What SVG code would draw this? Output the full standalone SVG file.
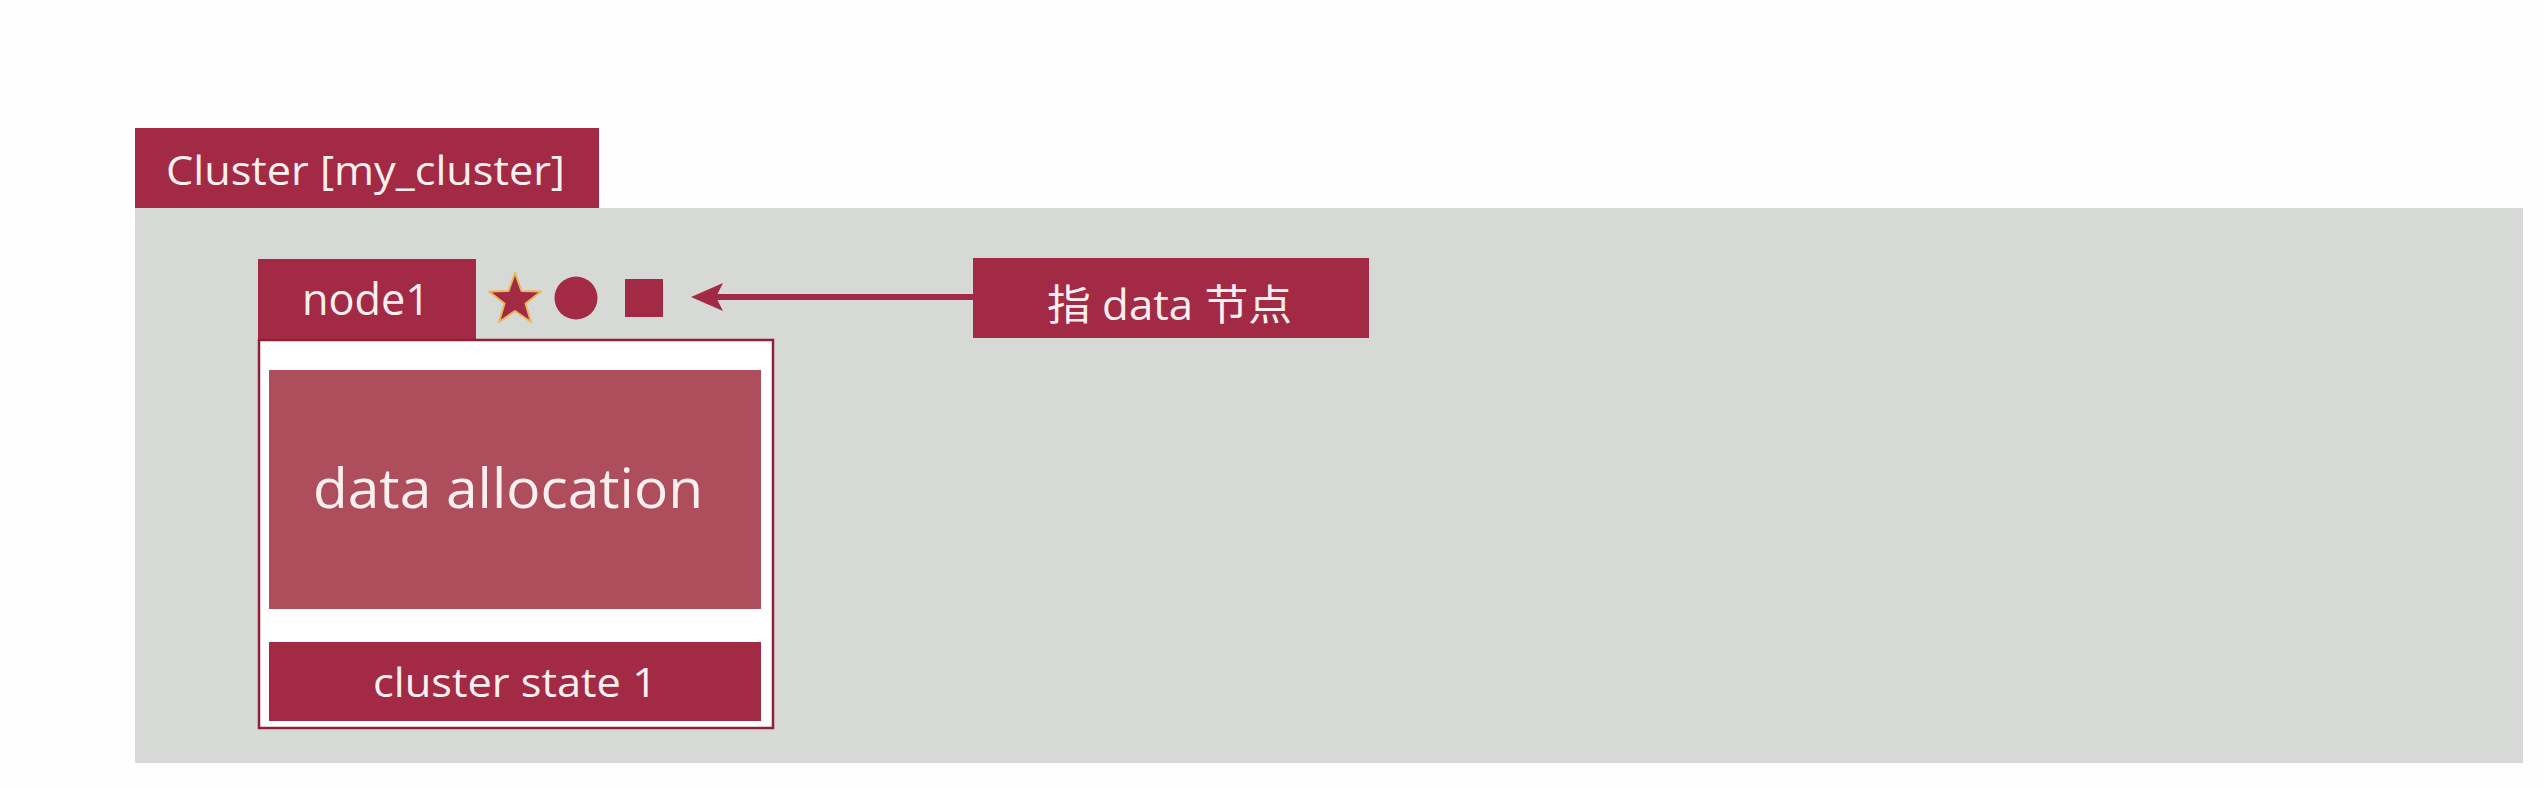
<svg xmlns="http://www.w3.org/2000/svg" width="2544" height="788" viewBox="0 0 2544 788">
<style>
.lbl{fill:#A32A45}
.t{font-family:"Open Sans","Noto Sans","Noto Sans CJK SC",sans-serif;fill:#FBEFF0}
</style>
<rect x="0" y="0" width="2544" height="788" fill="#FDFEFD"/>
<g id="cluster">
<rect x="135" y="208" width="2388" height="555" fill="#D7D9D6"/>
<rect class="lbl" x="135" y="128" width="464" height="80"/>
<text class="t" x="166" y="185" font-size="40" textLength="399" lengthAdjust="spacingAndGlyphs">Cluster [my_cluster]</text>
</g>
<g id="node1">
<rect class="lbl" x="258" y="259" width="218" height="81"/>
<text class="t" x="302" y="315" font-size="43" textLength="128" lengthAdjust="spacingAndGlyphs">node1</text>
<rect x="259" y="340" width="514" height="388" fill="#FFFFFF" stroke="#8E2039" stroke-width="2.5"/>
<rect x="269" y="370" width="492" height="239" fill="#AE4D5B"/>
<text class="t" x="313" y="508" font-size="54" textLength="390" lengthAdjust="spacingAndGlyphs">data allocation</text>
<rect class="lbl" x="269" y="642" width="492" height="79"/>
<text class="t" x="373" y="697" font-size="40" textLength="284" lengthAdjust="spacingAndGlyphs">cluster state 1</text>
</g>
<g id="markers">
<polygon points="515,273 521.5,291 541,291.5 525.5,303.5 531,322 515,311 499,322 504.5,303.5 489,291.5 508.5,291" fill="#A32A45" stroke="#E9B75A" stroke-width="2" stroke-linejoin="round"/>
<circle cx="576" cy="298" r="21.5" fill="#A32A45"/>
<rect x="625" y="279" width="38" height="38" fill="#A32A45"/>
</g>
<g id="note">
<rect class="lbl" x="973" y="258" width="396" height="80"/>
<text class="t" x="1047" y="320" font-size="42" textLength="245" lengthAdjust="spacingAndGlyphs">指 data 节点</text>
</g>
<g id="connectors">
<line x1="973" y1="297" x2="712" y2="297" stroke="#A32A45" stroke-width="6"/>
<polygon points="691,297 723,283 716,297 723,311" fill="#A32A45"/>
</g>
</svg>
